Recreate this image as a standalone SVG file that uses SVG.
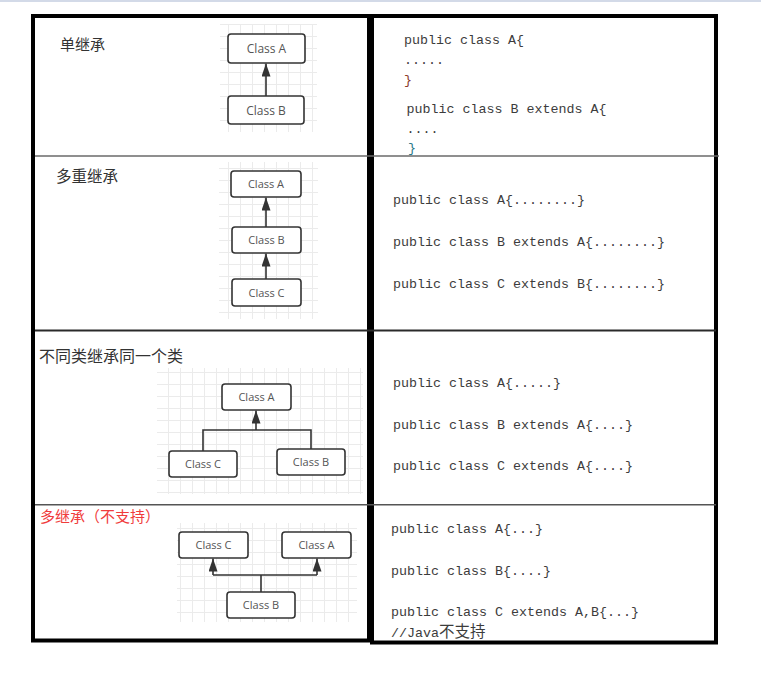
<svg xmlns="http://www.w3.org/2000/svg" width="761" height="677" viewBox="0 0 761 677">
<defs>
<pattern id="grid" width="12" height="12" patternUnits="userSpaceOnUse">
<path d="M0,0.5 H12 M0.5,0 V12" fill="none" stroke="#ebebeb" stroke-width="1"/>
</pattern>
<marker id="arr" viewBox="0 0 13 9" refX="13" refY="4.5" markerWidth="13" markerHeight="9" markerUnits="userSpaceOnUse" orient="auto">
<path d="M0,0 L13,4.5 L0,9 z" fill="#333"/>
</marker>
</defs>
<style>
.box{fill:#fff;stroke:#333;stroke-width:1.6}
.cls{font-family:"Open Sans","Noto Sans",sans-serif;font-size:11px;fill:#555;text-anchor:middle}
.big{font-size:12px}
.lbl{font-family:"Liberation Serif","Noto Sans CJK SC",serif;font-size:15px;fill:#333}
.code{font-family:"Liberation Mono","Noto Sans CJK SC",monospace;font-size:13.33px;fill:#3c3c3c}
.cjk{font-family:"Noto Sans CJK SC",sans-serif;font-size:15px}
.conn{fill:none;stroke:#333;stroke-width:1.6}
.grid{fill:url(#grid)}
</style>
<rect x="0" y="0" width="761" height="677" fill="#fff"/>
<rect x="0" y="0" width="761" height="2" fill="#d3dae8"/>

<g id="tables">
<rect x="33" y="16" width="336" height="624.5" fill="none" stroke="#000" stroke-width="4"/>
<rect x="372" y="16" width="344" height="626.5" fill="none" stroke="#000" stroke-width="4"/>
<line x1="35" y1="156" x2="719" y2="156" stroke="#6a6a6a" stroke-width="1.5"/>
<line x1="35" y1="330.5" x2="716" y2="330.5" stroke="#2a2a2a" stroke-width="2"/>
<line x1="35" y1="504.8" x2="716" y2="504.8" stroke="#555" stroke-width="1.5"/>
</g>

<g id="grids">
<rect class="grid" x="220" y="24" width="97" height="108"/>
<rect class="grid" x="219" y="162" width="99" height="157"/>
<rect class="grid" x="157" y="368" width="206" height="126"/>
<rect class="grid" x="177" y="523" width="180" height="99"/>
</g>

<g id="labels">
<text class="lbl cjk" x="60" y="50">单继承</text>
<text class="lbl cjk" x="56" y="182" style="font-size:15.5px">多重继承</text>
<text class="lbl cjk" x="39" y="362" style="font-size:16px">不同类继承同一个类</text>
<text class="lbl cjk" x="40" y="522" style="fill:#f03c3c">多继承（不支持）</text>
</g>

<g id="connectors">
<line class="conn" x1="266" y1="96" x2="266" y2="63.5" marker-end="url(#arr)"/>
<line class="conn" x1="266" y1="227" x2="266" y2="197.5" marker-end="url(#arr)"/>
<line class="conn" x1="266" y1="279" x2="266" y2="253.5" marker-end="url(#arr)"/>
<path class="conn" d="M203,451 V430 H311 V449"/>
<line class="conn" x1="256" y1="430" x2="256" y2="410.5" marker-end="url(#arr)"/>
<line class="conn" x1="261" y1="592" x2="261" y2="575"/>
<path class="conn" d="M213,575 H317"/>
<line class="conn" x1="213" y1="575" x2="213" y2="558.5" marker-end="url(#arr)"/>
<line class="conn" x1="317" y1="575" x2="317" y2="558.5" marker-end="url(#arr)"/>
</g>

<g id="r1-classA"><rect class="box" x="228" y="34" width="77" height="29" rx="3"/><text class="cls big" x="266.5" y="53">Class A</text></g>
<g id="r1-classB"><rect class="box" x="228" y="96" width="76" height="28" rx="3"/><text class="cls big" x="266" y="114.5">Class B</text></g>

<g id="r2-classA"><rect class="box" x="231" y="171" width="70" height="26" rx="3"/><text class="cls" x="266" y="188">Class A</text></g>
<g id="r2-classB"><rect class="box" x="232" y="227" width="69" height="26" rx="3"/><text class="cls" x="266.5" y="244">Class B</text></g>
<g id="r2-classC"><rect class="box" x="232" y="279" width="69" height="27" rx="3"/><text class="cls" x="266.5" y="296.5">Class C</text></g>

<g id="r3-classA"><rect class="box" x="222" y="384" width="69" height="26" rx="3"/><text class="cls" x="256.5" y="401">Class A</text></g>
<g id="r3-classC"><rect class="box" x="169" y="451" width="68" height="26" rx="3"/><text class="cls" x="203" y="468">Class C</text></g>
<g id="r3-classB"><rect class="box" x="277" y="449" width="68" height="26" rx="3"/><text class="cls" x="311" y="466">Class B</text></g>

<g id="r4-classC"><rect class="box" x="179" y="532" width="69" height="26" rx="3"/><text class="cls" x="213.5" y="549">Class C</text></g>
<g id="r4-classA"><rect class="box" x="282" y="532" width="69" height="26" rx="3"/><text class="cls" x="316.5" y="549">Class A</text></g>
<g id="r4-classB"><rect class="box" x="227" y="592" width="68" height="26" rx="3"/><text class="cls" x="261" y="609">Class B</text></g>

<g id="code">
<text class="code" x="404" y="44">public class A{</text>
<text class="code" x="404" y="64">.....</text>
<text class="code" x="404" y="84" style="fill:#8b3a2a">}</text>
<text class="code" x="406.5" y="113">public class B extends A{</text>
<text class="code" x="406.5" y="133">....</text>
<text class="code" x="408" y="152" style="fill:#2a7a8a">}</text>

<text class="code" x="393" y="204">public class A{........}</text>
<text class="code" x="393" y="246">public class B extends A{........}</text>
<text class="code" x="393" y="288">public class C extends B{........}</text>

<text class="code" x="393" y="387">public class A{.....}</text>
<text class="code" x="393" y="428.5">public class B extends A{....}</text>
<text class="code" x="393" y="470">public class C extends A{....}</text>

<text class="code" x="391" y="533">public class A{...}</text>
<text class="code" x="391" y="574.5">public class B{....}</text>
<text class="code" x="391" y="616">public class C extends A,B{...}</text>
<text class="code" x="391" y="637">//Java<tspan style="font-family:'Noto Sans CJK SC',sans-serif;font-size:15.5px">不支持</tspan></text>
</g>
</svg>
